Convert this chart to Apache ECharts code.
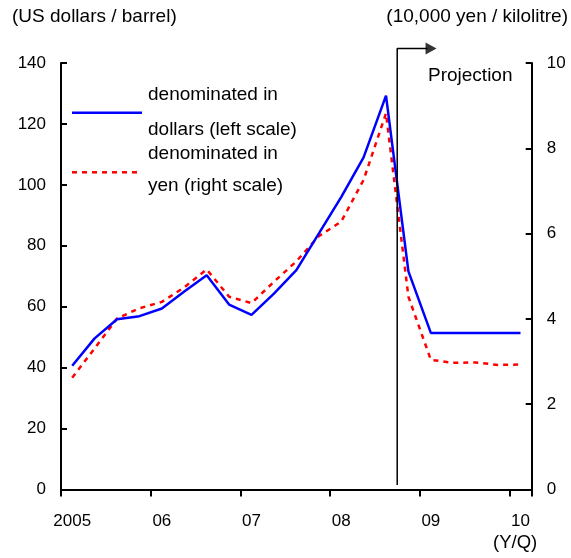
<!DOCTYPE html>
<html>
<head>
<meta charset="utf-8">
<script src="https://cdn.jsdelivr.net/npm/echarts@6/dist/echarts.min.js"></script>
<style>
html,body{margin:0;padding:0;background:#fff;}
#chart{width:571px;height:558px;}
</style>
</head>
<body>
<div id="chart"></div>
<script>
// Quarterly categories 2005Q1 .. 2010Q1
const categories = [
  '2005Q1','2005Q2','2005Q3','2005Q4',
  '2006Q1','2006Q2','2006Q3','2006Q4',
  '2007Q1','2007Q2','2007Q3','2007Q4',
  '2008Q1','2008Q2','2008Q3','2008Q4',
  '2009Q1','2009Q2','2009Q3','2009Q4',
  '2010Q1'
];
const tickLabels = ['2005','06','07','08','09','10'];
// Crude oil price denominated in dollars (left scale, US dollars / barrel)
const dollarPrice = [40.6,49.6,55.9,56.9,59.4,65.0,70.3,60.7,57.3,64.3,72.0,84.0,96.0,109.0,129.3,71.6,51.4,51.4,51.4,51.4,51.4];
// Crude oil price denominated in yen (right scale, 10,000 yen / kilolitre)
const yenPrice = [2.62,3.31,4.01,4.25,4.40,4.74,5.16,4.52,4.37,4.87,5.35,5.94,6.28,7.26,8.82,4.52,3.04,2.97,2.98,2.92,2.93];
const leftTicks = {min:0, max:140, interval:20};
const rightTicks = {min:0, max:10, interval:2};
// Projection marker (category boundary index, left-scale values)
const projectionAt = 15;
const projectionBottom = 1.5;
const projectionTop = 144.8;
const projectionArrowTip = 16.75;

const FONT = '"Liberation Sans", Arial, sans-serif';
const chart = echarts.init(document.getElementById('chart'), null, {renderer:'canvas'});

const labelMap = {};
categories.forEach((c, i) => { if (i % 4 === 0) labelMap[c] = tickLabels[i / 4]; });

const option = {
  animation: false,
  backgroundColor: '#ffffff',
  grid: {left: 61, right: 39.3, top: 63, bottom: 68.5, containLabel: false},
  xAxis: [
    {
      type: 'category',
      data: categories,
      boundaryGap: true,
      axisLine: {show: true, lineStyle: {color: '#000', width: 2}},
      axisTick: {show: true, inside: false, length: 7, lineStyle: {color: '#000', width: 2},
        interval: (idx) => idx % 4 === 0},
      axisLabel: {
        interval: (idx) => idx % 4 === 0,
        formatter: (v) => labelMap[v] || '',
        color: '#000', fontSize: 17, fontFamily: FONT, margin: 23
      },
      splitLine: {show: false}
    },
    {
      type: 'value', min: 0, max: categories.length, show: false, gridIndex: 0
    }
  ],
  yAxis: [
    {
      type: 'value', position: 'left',
      min: leftTicks.min, max: leftTicks.max, interval: leftTicks.interval,
      axisLine: {show: true, lineStyle: {color: '#000', width: 2}},
      axisTick: {show: true, inside: true, length: 6, lineStyle: {color: '#000', width: 2}},
      axisLabel: {color: '#000', fontSize: 17, fontFamily: FONT, margin: 15},
      splitLine: {show: false}
    },
    {
      type: 'value', position: 'right',
      min: rightTicks.min, max: rightTicks.max, interval: rightTicks.interval,
      axisLine: {show: true, lineStyle: {color: '#000', width: 2}},
      axisTick: {show: true, inside: true, length: 6, lineStyle: {color: '#000', width: 2}},
      axisLabel: {color: '#000', fontSize: 17, fontFamily: FONT, margin: 15},
      splitLine: {show: false}
    }
  ],
  series: [
    {
      name: 'denominated in dollars (left scale)',
      type: 'line', xAxisIndex: 0, yAxisIndex: 0,
      data: dollarPrice,
      symbol: 'none',
      lineStyle: {color: '#0000ff', width: 2.5},
      z: 3
    },
    {
      name: 'denominated in yen (right scale)',
      type: 'line', xAxisIndex: 0, yAxisIndex: 1,
      data: yenPrice,
      symbol: 'none',
      lineStyle: {color: '#ff0000', width: 2.5, type: [5, 5]},
      z: 2
    },
    {
      name: 'projection',
      type: 'line', xAxisIndex: 1, yAxisIndex: 0,
      data: [[projectionAt, projectionBottom], [projectionAt, projectionTop], [projectionArrowTip - 0.4, projectionTop]],
      symbol: 'none', clip: false, silent: true,
      lineStyle: {color: '#000', width: 1.5},
      z: 4
    },
    {
      name: 'projection arrow',
      type: 'scatter', xAxisIndex: 1, yAxisIndex: 0,
      data: [[projectionArrowTip - 0.24, projectionTop]],
      symbol: 'triangle', symbolRotate: -90, symbolSize: [12, 11],
      itemStyle: {color: '#000'}, clip: false, silent: true,
      z: 4
    }
  ],
  graphic: [
    {type: 'text', left: 12, top: 7, style: {text: '(US dollars / barrel)', font: '19px ' + FONT, fill: '#000'}},
    {type: 'text', right: 3, top: 7, style: {text: '(10,000 yen / kilolitre)', font: '19px ' + FONT, fill: '#000'}},
    {type: 'text', left: 428, top: 66, style: {text: 'Projection', font: '19px ' + FONT, fill: '#000'}},
    {type: 'text', left: 493, top: 533, style: {text: '(Y/Q)', font: '18.5px ' + FONT, fill: '#000'}},
    {type: 'line', shape: {x1: 72, y1: 112.7, x2: 142, y2: 112.7}, style: {stroke: '#0000ff', lineWidth: 2.5}},
    {type: 'line', shape: {x1: 72, y1: 172.3, x2: 142, y2: 172.3}, style: {stroke: '#ff0000', lineWidth: 2.5, lineDash: [5, 5]}},
    {type: 'text', left: 148, top: 85, style: {text: 'denominated in', font: '19px ' + FONT, fill: '#000'}},
    {type: 'text', left: 148, top: 120, style: {text: 'dollars (left scale)', font: '19px ' + FONT, fill: '#000'}},
    {type: 'text', left: 148, top: 144, style: {text: 'denominated in', font: '19px ' + FONT, fill: '#000'}},
    {type: 'text', left: 148, top: 176, style: {text: 'yen (right scale)', font: '19px ' + FONT, fill: '#000'}}
  ]
};
chart.setOption(option);
</script>
</body>
</html>
